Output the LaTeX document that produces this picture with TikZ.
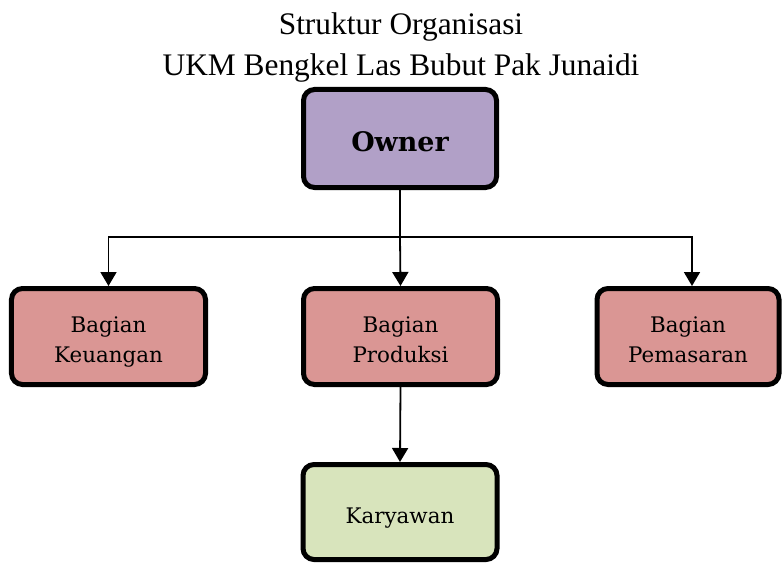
\documentclass[tikz,border=0pt]{standalone}
\usepackage{fontspec}
\setmainfont{Liberation Serif}
\newfontfamily\boxfont{DejaVu Serif}
\usetikzlibrary{arrows.meta}
\definecolor{ownerfill}{HTML}{B1A0C7}
\definecolor{deptfill}{HTML}{DA9694}
\definecolor{staffill}{HTML}{D8E4BC}
\tikzset{
  orgbox/.style={draw=black, line width=5bp, rounded corners=11bp, align=center,
    inner sep=0pt, minimum width=194bp, minimum height=96bp,
    font={\boxfont\fontsize{21.5}{30}\selectfont}},
  twoline/.style={text height=60bp, text depth=9bp},
  oneline/.style={text height=30bp, text depth=8bp},
  link/.style={line width=1.8bp, -{Triangle[width=16bp,length=14bp]}},
  plain/.style={line width=1.8bp},
  titletext/.style={font={\fontsize{31.5}{38}\selectfont}, inner sep=0pt, anchor=base}
}
\begin{document}
\begin{tikzpicture}[x=1bp, y=-1bp]
\useasboundingbox (0,0) rectangle (782,563);
\node[titletext] (t1) at (401,34.5) {Struktur Organisasi};
\node[titletext] (t2) at (401,75.5) {UKM Bengkel Las Bubut Pak Junaidi};
\node[orgbox, fill=ownerfill, minimum width=193bp, minimum height=98bp,
  text height=35bp, text depth=8bp,
  font={\boxfont\bfseries\fontsize{27}{30}\selectfont}] (owner) at (400,138.5) {Owner};
\node[orgbox, twoline, fill=deptfill] (keu) at (108.5,336.5) {Bagian\\Keuangan};
\node[orgbox, twoline, fill=deptfill] (prod) at (400.5,336.5) {Bagian\\Produksi};
\node[orgbox, twoline, fill=deptfill, minimum width=182bp] (pem) at (688,336.5) {Bagian\\Pemasaran};
\node[orgbox, oneline, fill=staffill, minimum height=95bp] (kar) at (400,512) {Karyawan};
\coordinate (split) at (400,237);
\draw[plain] (owner.south) -- (split);
\draw[link] (split) -| (keu.north);
\draw[link] (split) -- (prod.north);
\draw[link] (split) -| ([xshift=4bp]pem.north);
\draw[link] (prod.south) -- (kar.north);
\end{tikzpicture}
\end{document}
